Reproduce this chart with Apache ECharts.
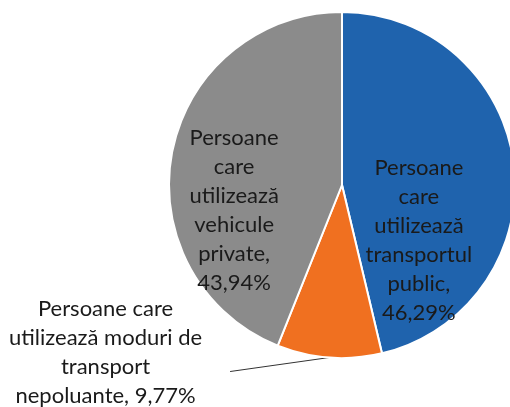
<!DOCTYPE html>
<html>
<head>
<meta charset="utf-8">
<script src="https://cdn.jsdelivr.net/npm/echarts@6/dist/echarts.min.js"></script>
<style>
    html, body { margin: 0; padding: 0; background: #fff; }
    #chart { width: 510px; height: 407px; }
</style>
</head>
<body>
<div id="chart"></div>
<script>
    const categories = [
        'Persoane care utilizează transportul public',
        'Persoane care utilizează moduri de transport nepoluante',
        'Persoane care utilizează vehicule private'
    ];
    const values = [46.29, 9.77, 43.94];
    const labelTexts = [
        'Persoane\ncare\nutilizează\ntransportul\npublic,\n46,29%',
        'Persoane care\nutilizează moduri de\ntransport\nnepoluante, 9,77%',
        'Persoane\ncare\nutilizează\nvehicule\nprivate,\n43,94%'
    ];
    const colors = ['#1f63ad', '#f07020', '#8b8b8b'];

    const chart = echarts.init(document.getElementById('chart'));

    const font = {
        fontFamily: 'Lato',
        fontSize: 22,
        lineHeight: 29,
        color: '#1a1a1a'
    };

    chart.setOption({
        animation: false,
        color: colors,
        series: [
            {
                type: 'pie',
                center: [342, 185],
                radius: 173,
                startAngle: 90,
                clockwise: true,
                itemStyle: {
                    borderColor: '#fff',
                    borderWidth: 2
                },
                label: {
                    show: true,
                    position: 'inside',
                    overflow: 'none',
                    formatter: (p) => '{a|' + labelTexts[p.dataIndex].split('\n').join('}\n{a|') + '}',
                    rich: {
                        a: Object.assign({ align: 'center' }, font)
                    }
                },
                labelLayout: function (params) {
                    // slant the leader line of the small slice a bit downwards
                    if (params.dataIndex !== 1 || !params.labelLinePoints) return;
                    const p = params.labelLinePoints;
                    return {
                        labelLinePoints: [p[0], p[0], [p[2][0], p[2][1] + 12]]
                    };
                },
                data: [
                    {
                        name: categories[0],
                        value: values[0],
                        label: { offset: [-12, 66] }
                    },
                    {
                        name: categories[1],
                        value: values[1],
                        label: {
                            position: 'outside',
                            overflow: 'none',
                            distanceToLabelLine: 29,
                            padding: [0, 0, 14, 0]
                        },
                        labelLine: {
                            show: true,
                            length: 2,
                            length2: 99,
                            lineStyle: { color: '#333', width: 1 }
                        }
                    },
                    {
                        name: categories[2],
                        value: values[2],
                        label: { offset: [-20, 42] }
                    }
                ]
            }
        ]
    });
</script>
</body>
</html>
